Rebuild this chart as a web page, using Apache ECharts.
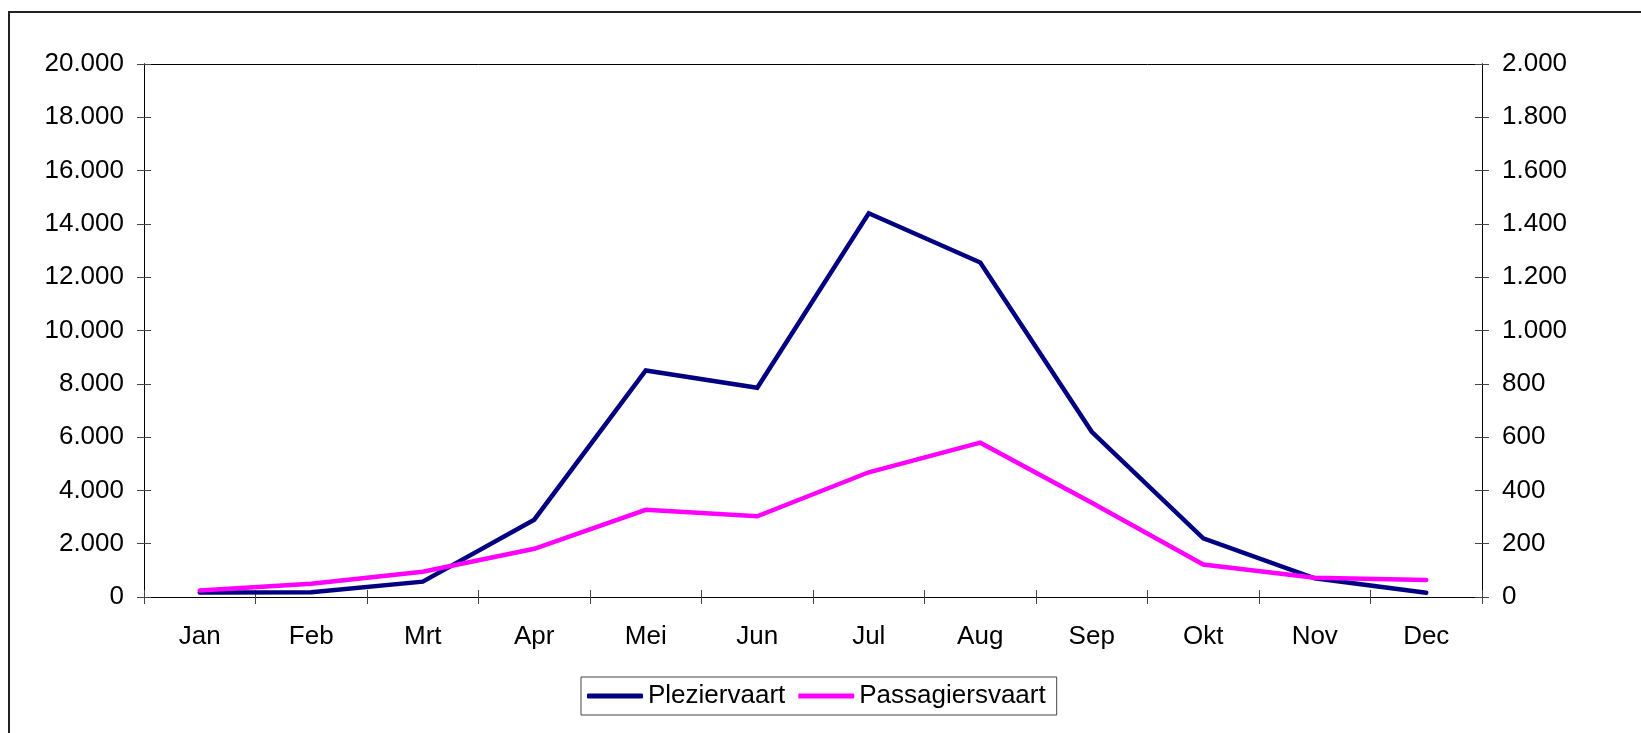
<!DOCTYPE html>
<html>
<head>
<meta charset="utf-8">
<script src="https://cdn.jsdelivr.net/npm/echarts@6/dist/echarts.min.js"></script>
<style>html,body{margin:0;padding:0;background:#fff;}#c{width:1641px;height:733px;}</style>
</head>
<body>
<div id="c"></div>
<script>
const months = ['Jan','Feb','Mrt','Apr','Mei','Jun','Jul','Aug','Sep','Okt','Nov','Dec'];
const plezierName = 'Pleziervaart';
const passagiersName = 'Passagiersvaart';
const plezier = [170, 180, 575, 2900, 8500, 7850, 14400, 12550, 6200, 2200, 700, 160];
const passagiers = [24, 50, 95, 181, 327, 303, 468, 579, 354, 122, 72, 64];
const leftMax = 20000, leftStep = 2000;
const rightMax = 2000, rightStep = 200;

function nl(v){ return String(v).replace(/\B(?=(\d{3})+(?!\d))/g, '.'); }

const font = 'Liberation Sans, Arial, sans-serif';
const fs = 26;
const tickColor = '#444';
const chart = echarts.init(document.getElementById('c'));

function yAx(pos, max, step, inside, labels){
  return {
    type: 'value', position: pos, min: 0, max: max, interval: step,
    splitLine: {show: false},
    axisLine: {show: true, onZero: false, lineStyle: {color: '#000', width: 1}},
    axisTick: {show: true, inside: inside, length: 7, lineStyle: {color: tickColor}},
    axisLabel: {show: labels, margin: 20, color: '#000', fontSize: fs, fontFamily: font, formatter: nl}
  };
}
function xAx(pos, inside, labels, ticks){
  return {
    type: 'category', data: months, position: pos, boundaryGap: true,
    axisLine: {show: true, onZero: false, lineStyle: {color: '#000', width: 1}},
    axisTick: {show: ticks, inside: inside, length: 7, interval: 0, lineStyle: {color: tickColor}},
    axisLabel: {show: labels, margin: 27, color: '#000', fontSize: fs, fontFamily: font, interval: 0},
    splitLine: {show: false}
  };
}

chart.setOption({
  animation: false,
  backgroundColor: '#fff',
  grid: {left: 144, right: 159, top: 64, bottom: 136, containLabel: false, outerBoundsMode: 'none'},
  graphic: [{
    type: 'rect', shape: {x: 9, y: 12, width: 1700, height: 800},
    style: {fill: 'none', stroke: '#222', lineWidth: 2}, silent: true, z: -10
  }],
  legend: {
    left: 581, top: 677,
    data: [plezierName, passagiersName],
    icon: 'roundRect',
    itemWidth: 56, itemHeight: 5, itemGap: 13,
    padding: [6, 11, 6, 6],
    borderColor: '#444', borderWidth: 1,
    textStyle: {fontSize: fs, fontFamily: font, color: '#000'}
  },
  xAxis: [xAx('bottom', false, true, true), xAx('bottom', true, false, true), xAx('top', false, false, false)],
  yAxis: [yAx('left', leftMax, leftStep, false, true), yAx('right', rightMax, rightStep, false, true),
          yAx('left', leftMax, leftStep, true, false), yAx('right', rightMax, rightStep, true, false)],
  series: [
    {name: plezierName, type: 'line', data: plezier, xAxisIndex: 0, yAxisIndex: 0, showSymbol: false, symbol: 'none',
     lineStyle: {color: '#000080', width: 4.5, cap: 'round', join: 'miter'}, itemStyle: {color: '#000080'}},
    {name: passagiersName, type: 'line', data: passagiers, xAxisIndex: 0, yAxisIndex: 1, showSymbol: false, symbol: 'none',
     lineStyle: {color: '#FF00FF', width: 4.5, cap: 'round', join: 'miter'}, itemStyle: {color: '#FF00FF'}}
  ]
});
</script>
</body>
</html>
